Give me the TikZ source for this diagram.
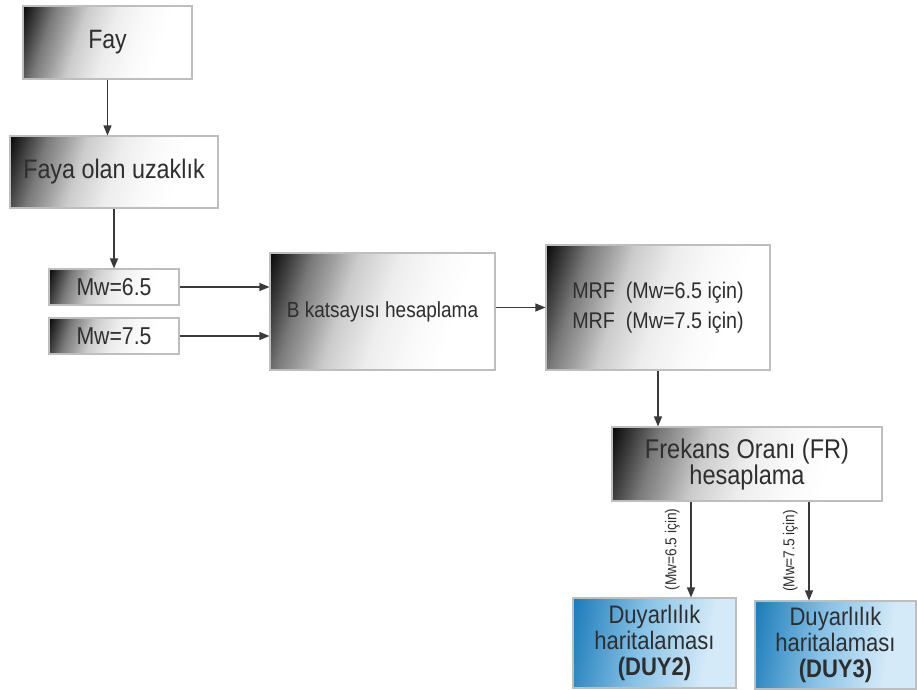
\documentclass[tikz,border=0pt]{standalone}
\usepackage{fontspec}
\setmainfont[FakeStretch=0.87]{Liberation Sans}
\usepackage{tikz}
\usetikzlibrary{arrows.meta}
\usetikzlibrary{shapes}
\usetikzlibrary{calc}
\usetikzlibrary{positioning}

\definecolor{linegray}{HTML}{3A3A3A}
\definecolor{framegray}{HTML}{BEBEBE}
\definecolor{textgray}{HTML}{2E2E2E}
\definecolor{darkblue}{HTML}{1C7BB8}
\definecolor{midblue}{HTML}{86C1E6}
\definecolor{lightblue}{HTML}{D4EAF8}

\pgfdeclarehorizontalshading{grayfade}{100bp}{color(0bp)=(black); color(18.5bp)=(black!97); color(23.7bp)=(black!75); color(29bp)=(black!52); color(34bp)=(black!38); color(40bp)=(black!20); color(50bp)=(black!7); color(60bp)=(black!2); color(68bp)=(white); color(100bp)=(white)}
\pgfdeclarehorizontalshading{bluefade}{100bp}{color(0bp)=(darkblue); color(21bp)=(darkblue); color(45bp)=(midblue); color(68bp)=(lightblue); color(100bp)=(lightblue)}

\begin{document}
\begin{tikzpicture}[x=0.75pt,y=-0.75pt,
      every node/.style={text=textgray,inner sep=0pt,align=center},
      graybox/.style={draw=framegray,line width=0.8pt,shading=grayfade,shading angle=-18},
      bluebox/.style={draw=framegray,line width=0.8pt,shading=bluefade,shading angle=-10},
      arr/.style={draw=linegray,line width=0.8pt,-{Triangle[length=7.5pt,width=6pt]}},
      lbl/.style={font=\fontsize{11.8}{13}\selectfont,rotate=90,anchor=south,inner ysep=8pt}]
      \useasboundingbox (0,0) rectangle (917,689);

      \node[graybox,minimum width=126.75pt,minimum height=54.75pt,font=\fontsize{19.9}{20}\selectfont] (fay) at (107.5,42.5) {Fay};
      \node[graybox,minimum width=156pt,minimum height=54pt,font=\fontsize{20.1}{20}\selectfont] (uzak) at (114,172) {Faya olan uzaklık};
      \node[graybox,minimum width=97.5pt,minimum height=27pt,font=\fontsize{18.3}{19}\selectfont] (mwa) at (114,287) {Mw=6.5};
      \node[graybox,minimum width=97.5pt,minimum height=27pt,font=\fontsize{18.3}{19}\selectfont] (mwb) at (114,336) {Mw=7.5};
      \node[graybox,minimum width=168.75pt,minimum height=87.75pt,font=\fontsize{16.4}{17}\selectfont] (bkat) at (382.5,311.5) {B katsayısı hesaplama};
      \node[graybox,minimum width=168pt,minimum height=93.75pt,font=\fontsize{17}{22.5}\selectfont] (mrf) at (658,307.5) {MRF\ \ (Mw=6.5 için)\\MRF\ \ (Mw=7.5 için)};
      \node[graybox,minimum width=202.5pt,minimum height=55.5pt,font=\fontsize{20.3}{19.5}\selectfont] (fr) at (747,464) {Frekans Oranı (FR)\\hesaplama};
      \node[bluebox,minimum width=122.25pt,minimum height=67.5pt,font=\fontsize{19}{19.5}\selectfont] (duya) at (654.5,643) {Duyarlılık\\haritalaması\\\textbf{(DUY2)}};
      \node[bluebox,minimum width=120.75pt,minimum height=66pt,font=\fontsize{19}{19.5}\selectfont] (duyb) at (835.5,645) {Duyarlılık\\haritalaması\\\textbf{(DUY3)}};

      \coordinate (ka) at (691,0);
      \coordinate (kb) at (809,0);

      \draw[arr] (fay.south) -- (fay.south |- uzak.north);
      \draw[arr] (uzak.south) -- (mwa.north);
      \draw[arr] (mwa.east) -- (mwa.east -| bkat.west);
      \draw[arr] (mwb.east) -- (mwb.east -| bkat.west);
      \draw[arr] (mrf.west -| bkat.east) -- (mrf.west);
      \draw[arr] (mrf.south) -- (mrf.south |- fr.north);
      \draw[arr] (fr.south -| ka) -- (duya.north -| ka) node[lbl,midway] {(Mw=6.5 için)};
      \draw[arr] (fr.south -| kb) -- (duyb.north -| kb) node[lbl,midway] {(Mw=7.5 için)};

    \end{tikzpicture}
\end{document}
